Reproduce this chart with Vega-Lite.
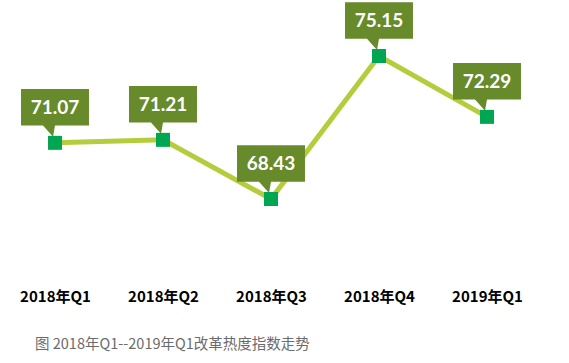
{
  "$schema": "https://vega.github.io/schema/vega-lite/v6.json",
  "width": 540,
  "height": 266,
  "autosize": {"type": "none"},
  "padding": {"left": 1, "top": 6, "right": 28, "bottom": 91},
  "background": "white",
  "config": {"view": {"stroke": null}},
  "title": {
    "text": "图 2018年Q1--2019年Q1改革热度指数走势",
    "orient": "bottom",
    "anchor": "start",
    "dx": 34,
    "offset": 34,
    "font": "Noto Sans CJK SC",
    "fontSize": 14.5,
    "fontWeight": "normal",
    "color": "#6b6b6b"
  },
  "data": {
    "values": [
      {"q": "2018年Q1", "v": 71.07},
      {"q": "2018年Q2", "v": 71.21},
      {"q": "2018年Q3", "v": 68.43},
      {"q": "2018年Q4", "v": 75.15},
      {"q": "2019年Q1", "v": 72.29}
    ]
  },
  "encoding": {
    "x": {
      "field": "q",
      "type": "ordinal",
      "sort": null,
      "scale": {"type": "point", "padding": 0.5},
      "axis": {
        "title": null,
        "labelAngle": 0,
        "domain": false,
        "ticks": false,
        "grid": false,
        "labelFont": "Noto Sans CJK SC",
        "labelFontSize": 15,
        "labelFontWeight": "bold",
        "labelColor": "#000000",
        "labelPadding": 17
      }
    },
    "y": {
      "field": "v",
      "type": "quantitative",
      "scale": {"domain": [65, 77.5], "zero": false, "nice": false},
      "axis": null
    }
  },
  "layer": [
    {"mark": {"type": "line", "color": "#b5cd3c", "strokeWidth": 5}},
    {
      "mark": {
        "type": "point",
        "shape": "M-0.531,-0.84L0.531,-0.84L0.531,-0.27L0,-0.27L-0.031,-0.094L-0.1875,-0.27L-0.531,-0.27Z",
        "size": 16384,
        "filled": true,
        "color": "#678a2b",
        "opacity": 1,
        "strokeWidth": 0
      }
    },
    {
      "mark": {
        "type": "text",
        "color": "white",
        "font": "Lato",
        "fontWeight": "bold",
        "fontSize": 19,
        "dy": -35,
        "baseline": "middle",
        "align": "center"
      },
      "encoding": {"text": {"field": "v", "type": "quantitative", "format": ".2f"}}
    },
    {
      "mark": {
        "type": "point",
        "shape": "square",
        "size": 196,
        "filled": true,
        "color": "#00a651",
        "opacity": 1
      }
    }
  ]
}
